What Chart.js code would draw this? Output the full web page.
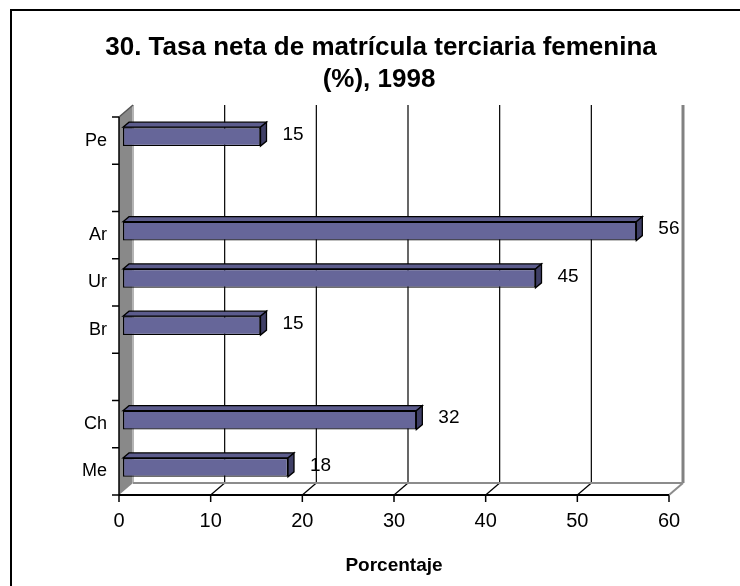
<!DOCTYPE html>
<html>
<head>
<meta charset="utf-8">
<script src="https://cdn.jsdelivr.net/npm/chart.js@4"></script>
<style>
  html, body { margin: 0; padding: 0; background: #fff; }
  #wrap { width: 740px; height: 586px; }
</style>
</head>
<body>
<div id="wrap"><canvas id="chart" width="740" height="586"></canvas></div>
<script>
// data (blank rows are spacer categories)
const categories = ['Pe', '', 'Ar', 'Ur', 'Br', '', 'Ch', 'Me'];
const values = [15, null, 56, 45, 15, null, 32, 18];
const xTicks = [0, 10, 20, 30, 40, 50, 60];
const titleLines = ['30. Tasa neta de matrícula terciaria femenina', '(%), 1998'];
const xTitle = 'Porcentaje';

const FONT = "'Liberation Sans', Arial, sans-serif";
const WALL_DX = 14, WALL_DY = 12;   // depth of the walls
const BAR_DX = 4, BAR_DY = -4;      // bars sit a bit back from the front axis
const FACE_DX = 6, FACE_DY = 5;     // bar thickness in depth

function poly(ctx, pts, fill, stroke, lw) {
    ctx.beginPath();
    ctx.moveTo(pts[0][0], pts[0][1]);
    for (let i = 1; i < pts.length; i++) ctx.lineTo(pts[i][0], pts[i][1]);
    ctx.closePath();
    if (fill) { ctx.fillStyle = fill; ctx.fill(); }
    if (stroke) { ctx.strokeStyle = stroke; ctx.lineWidth = lw || 1; ctx.stroke(); }
}

function line(ctx, x1, y1, x2, y2, color, lw) {
    ctx.beginPath();
    ctx.moveTo(x1, y1);
    ctx.lineTo(x2, y2);
    ctx.strokeStyle = color;
    ctx.lineWidth = lw;
    ctx.stroke();
}

const scene3d = {
    id: 'scene3d',
    beforeDraw(chart) {
        const ctx = chart.ctx;
        ctx.save();
        ctx.fillStyle = '#fff';
        ctx.fillRect(0, 0, chart.width, chart.height);
        // outer frame (only top and left visible)
        line(ctx, 11, 10, chart.width, 10, '#000', 2);
        line(ctx, 11, 9, 11, chart.height, '#000', 2);
        // title
        ctx.fillStyle = '#000';
        ctx.font = 'bold 26px ' + FONT;
        ctx.textAlign = 'center';
        ctx.textBaseline = 'middle';
        ctx.fillText(titleLines[0], 381, 48);
        ctx.fillText(titleLines[1], 379, 80);
        ctx.restore();
    },
    beforeDatasetsDraw(chart) {
        const ctx = chart.ctx;
        const xs = chart.scales.x;
        const a = chart.chartArea;
        const left = xs.getPixelForValue(0), right = xs.getPixelForValue(60);
        const top = a.top, bottom = a.bottom;
        ctx.save();
        // left wall
        poly(ctx, [[left, top], [left + WALL_DX, top - WALL_DY], [left + WALL_DX, bottom - WALL_DY], [left, bottom]], '#898989');
        line(ctx, left + WALL_DX, top - WALL_DY, left + WALL_DX, bottom - WALL_DY, '#b4b4b4', 2);
        line(ctx, left, top, left + WALL_DX, top - WALL_DY, '#555', 1.5);
        // back wall gridlines and floor diagonals
        xTicks.forEach(v => {
            const px = xs.getPixelForValue(v);
            if (v > 0 && v < 60) {
                line(ctx, px + WALL_DX, top - WALL_DY, px + WALL_DX, bottom - WALL_DY, '#000', 1.2);
                line(ctx, px, bottom, px + WALL_DX, bottom - WALL_DY, '#000', 1.2);
            }
            line(ctx, px, bottom, px, bottom + 7, '#000', 1.5);
        });
        // right wall edge and floor
        line(ctx, right + WALL_DX, top - WALL_DY, right + WALL_DX, bottom - WALL_DY, '#828282', 3);
        line(ctx, left + WALL_DX, bottom - WALL_DY, right + WALL_DX, bottom - WALL_DY, '#8c8c8c', 2);
        line(ctx, right, bottom, right + WALL_DX, bottom - WALL_DY, '#8c8c8c', 2);
        // front axes
        line(ctx, left, bottom, right, bottom, '#000', 2);
        line(ctx, left, top, left, bottom, '#000', 1.5);
        const band = (bottom - top) / categories.length;
        for (let i = 0; i <= categories.length; i++) {
            const y = top + i * band;
            line(ctx, left - 7, y, left, y, '#000', 1.5);
        }
        ctx.restore();
        // bars drawn shifted back into the scene
        ctx.save();
        ctx.translate(BAR_DX, BAR_DY);
    },
    afterDatasetsDraw(chart) {
        const ctx = chart.ctx;
        const meta = chart.getDatasetMeta(0);
        meta.data.forEach((el, i) => {
            if (values[i] == null) return;
            const x0 = Math.min(el.x, el.base), x1 = Math.max(el.x, el.base);
            const t = el.y - el.height / 2, b = el.y + el.height / 2;
            poly(ctx, [[x0, t], [x0 + FACE_DX, t - FACE_DY], [x1 + FACE_DX, t - FACE_DY], [x1, t]], '#5c5c8c', '#000', 1.3);
            poly(ctx, [[x1, t], [x1 + FACE_DX, t - FACE_DY], [x1 + FACE_DX, b - FACE_DY], [x1, b]], '#3f3f66', '#000', 1.3);
        });
        ctx.restore();
        // value labels
        ctx.save();
        ctx.fillStyle = '#000';
        ctx.font = '19px ' + FONT;
        ctx.textAlign = 'left';
        ctx.textBaseline = 'middle';
        meta.data.forEach((el, i) => {
            if (values[i] == null) return;
            ctx.fillText(String(values[i]), el.x + BAR_DX + 22, el.y + BAR_DY - 2);
        });
        ctx.restore();
    }
};

new Chart(document.getElementById('chart'), {
    type: 'bar',
    data: {
        labels: categories,
        datasets: [{
            data: values,
            backgroundColor: '#666699',
            borderColor: '#000',
            borderWidth: 1.3,
            borderSkipped: false,
            barPercentage: 0.4,
            categoryPercentage: 1.0
        }]
    },
    options: {
        indexAxis: 'y',
        responsive: false,
        devicePixelRatio: 1,
        animation: false,
        layout: { padding: { top: 117, right: 71, bottom: 0, left: 0 } },
        plugins: {
            legend: { display: false },
            title: { display: false },
            tooltip: { enabled: false }
        },
        scales: {
            x: {
                type: 'linear',
                min: 0,
                max: 60,
                afterBuildTicks: s => { s.ticks = xTicks.map(v => ({ value: v })); },
                ticks: { color: '#000', font: { family: FONT, size: 20 }, padding: 14, maxRotation: 0 },
                grid: { display: false, drawTicks: false },
                border: { display: false },
                title: {
                    display: true,
                    text: xTitle,
                    color: '#000',
                    font: { family: FONT, size: 19, weight: 'bold' },
                    padding: { top: 0, bottom: 9 }
                },
                afterFit: s => { s.height = 91; }
            },
            y: {
                type: 'category',
                ticks: { color: '#000', font: { family: FONT, size: 18 }, padding: 12, autoSkip: false },
                grid: { display: false, drawTicks: false },
                border: { display: false },
                afterFit: s => { s.width = 119; }
            }
        }
    },
    plugins: [scene3d]
});
</script>
</body>
</html>
